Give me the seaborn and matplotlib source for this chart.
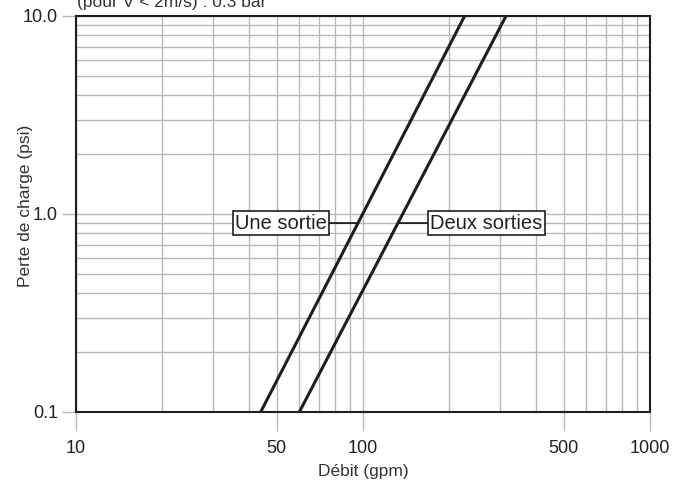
import numpy as np
import pandas as pd
import seaborn as sns
import matplotlib.pyplot as plt
from matplotlib.ticker import FixedLocator, LogLocator, NullFormatter

# flow (gpm) and pressure drop (psi) end points
une_sortie_debit = [44, 226]
une_sortie_perte = [0.1, 10.0]
deux_sorties_debit = [60, 315]
deux_sorties_perte = [0.1, 10.0]

x_ticks = [10, 50, 100, 500, 1000]
x_tick_labels = ["10", "50", "100", "500", "1000"]
y_ticks = [0.1, 1.0, 10.0]
y_tick_labels = ["0.1", "1.0", "10.0"]

df = pd.concat([
    pd.DataFrame({"debit": une_sortie_debit, "perte": une_sortie_perte, "serie": "Une sortie"}),
    pd.DataFrame({"debit": deux_sorties_debit, "perte": deux_sorties_perte, "serie": "Deux sorties"}),
])

sns.set_style("white")
plt.rcParams["font.family"] = ["Liberation Sans", "DejaVu Sans"]

fig = plt.figure(figsize=(6.77, 4.83), dpi=100)
ax = fig.add_axes([76 / 677, 1 - 412 / 483, 574 / 677, 396 / 483])

sns.lineplot(data=df, x="debit", y="perte", hue="serie",
             palette=["#1e1e1e", "#1e1e1e"], linewidth=2.2, legend=False, ax=ax)

ax.set_xscale("log")
ax.set_yscale("log")
ax.set_xlim(10, 1000)
ax.set_ylim(0.1, 10)

ax.xaxis.set_major_locator(FixedLocator(x_ticks))
ax.set_xticklabels(x_tick_labels)
ax.xaxis.set_minor_locator(LogLocator(base=10, subs=np.arange(2, 10)))
ax.xaxis.set_minor_formatter(NullFormatter())
ax.yaxis.set_major_locator(FixedLocator(y_ticks))
ax.set_yticklabels(y_tick_labels)
ax.yaxis.set_minor_locator(LogLocator(base=10, subs=np.arange(2, 10)))
ax.yaxis.set_minor_formatter(NullFormatter())

ax.grid(True, which="both", color="#b8b8b8", linewidth=1)
ax.set_axisbelow(True)
ax.tick_params(axis="x", which="major", length=14, color="#b8b8b8", width=1,
               labelsize=13, pad=6, direction="out", bottom=True, labelcolor="#222222")
ax.tick_params(axis="y", which="major", length=10, color="#b8b8b8", width=1,
               labelsize=13, pad=3, left=True, labelcolor="#222222")
ax.tick_params(which="minor", length=0)
for s in ax.spines.values():
    s.set_color("#1e1e1e")
    s.set_linewidth(1.5)

ax.set_xlabel("Débit (gpm)", fontsize=12.5, labelpad=5, color="#333333")
ax.set_ylabel("Perte de charge (psi)", fontsize=12.5, color="#333333")
ax.yaxis.set_label_coords(-0.075, 0.52)


def x_at(debit, perte, y):
    return 10 ** np.interp(np.log10(y), np.log10(perte), np.log10(debit))


y_lab = 0.9
box = dict(boxstyle="square,pad=0.12", fc="white", ec="#1e1e1e", lw=1.2)
ax.annotate("Une sortie", xy=(x_at(une_sortie_debit, une_sortie_perte, y_lab), y_lab),
            xytext=(51.8, y_lab), ha="center", va="center", fontsize=14.5,
            color="#222222", bbox=box,
            arrowprops=dict(arrowstyle="-", color="#1e1e1e", lw=1.3, shrinkA=0, shrinkB=0))
ax.annotate("Deux sorties", xy=(x_at(deux_sorties_debit, deux_sorties_perte, y_lab), y_lab),
            xytext=(269, y_lab), ha="center", va="center", fontsize=14.5,
            color="#222222", bbox=box,
            arrowprops=dict(arrowstyle="-", color="#1e1e1e", lw=1.3, shrinkA=0, shrinkB=0))

fig.text(77 / 677, 1 - 7 / 483, "(pour V < 2m/s) : 0.3 bar", fontsize=12.5,
         color="#333333", ha="left", va="baseline")

fig.savefig("out.png", dpi=100)
